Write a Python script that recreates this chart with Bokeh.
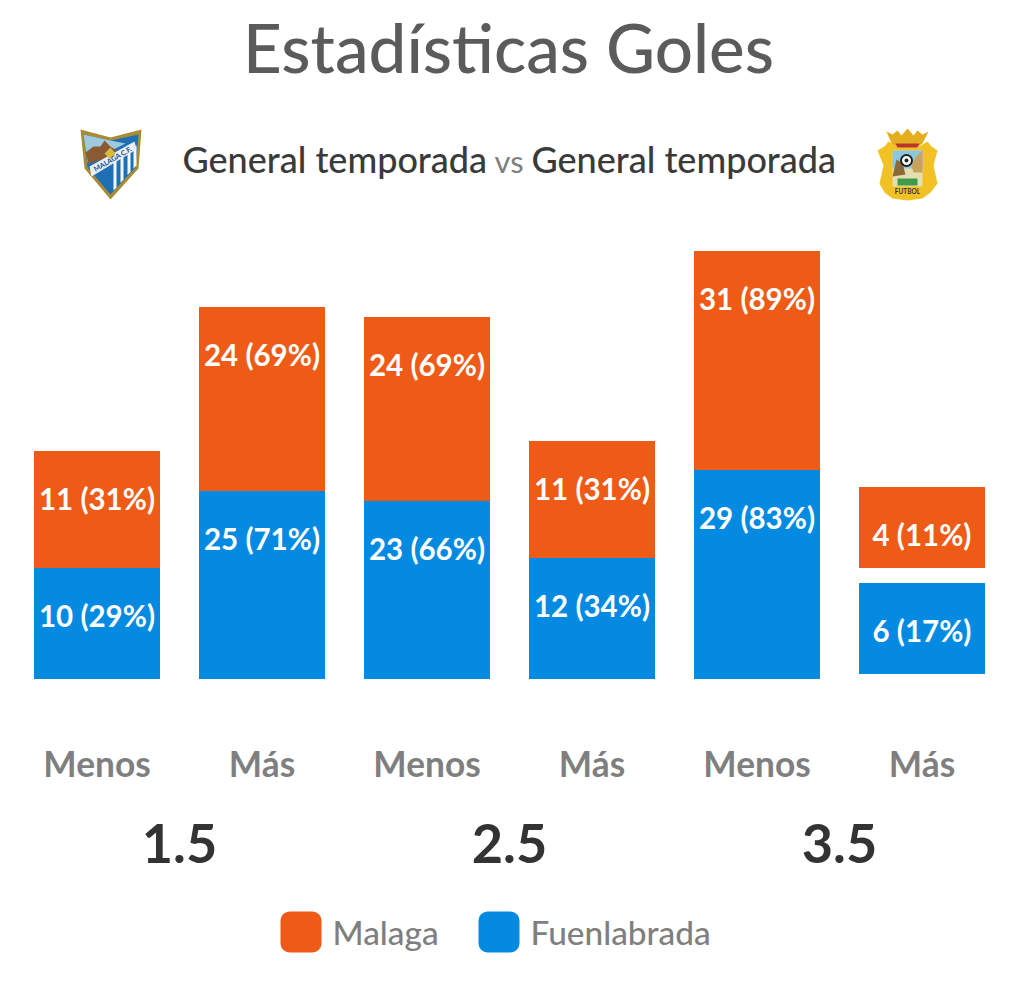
from bokeh.plotting import figure
from bokeh.models import Range1d, ColumnDataSource
from bokeh.core.properties import value
from bokeh.embed import file_html
from bokeh.resources import INLINE
import math

title = "Estadísticas Goles"
context = "General temporada"
lines = ["1.5", "2.5", "3.5"]
sides = ["Menos", "Más", "Menos", "Más", "Menos", "Más"]
teams = ["Malaga", "Fuenlabrada"]

malaga_goals = [11, 24, 24, 11, 31, 4]
malaga_pct = [31, 69, 69, 31, 89, 11]
fuenla_goals = [10, 25, 23, 12, 29, 6]
fuenla_pct = [29, 71, 66, 34, 83, 17]
# segment lengths
malaga_len = [117, 184, 184, 117, 219, 81]
fuenla_len = [111, 188, 178, 121, 209, 91]
fuenla_lift = [0, 0, 0, 0, 0, 5]
malaga_gap = [0, 0, 0, 0, 0, 15]

ORANGE = "#EE5B16"
BLUE = "#058AE2"
GREY = "#7F7F7F"
DARK = "#333333"
FONT = value("Lato")
MEDIUM = value("Lato Medium")

idx = list(range(6))
PX0, STEP, BASE = 96.5, 165, 678.5
W, H = 1020, 1002

p = figure(width=W, height=H, output_backend="svg", toolbar_location=None,
           x_range=Range1d(-PX0 / STEP, (W - PX0) / STEP),
           y_range=Range1d(BASE - H, BASE),
           x_axis_location=None, y_axis_location=None, min_border=0,
           outline_line_color=None, background_fill_color="white")
p.grid.visible = False
p.extra_x_ranges["px"] = Range1d(0, W)
p.extra_y_ranges["px"] = Range1d(H, 0)

f_bottom = list(fuenla_lift)
f_top = [a + b for a, b in zip(f_bottom, fuenla_len)]
m_bottom = [a + b for a, b in zip(f_top, malaga_gap)]
m_top = [a + b for a, b in zip(m_bottom, malaga_len)]
bw = 126 / STEP

p.vbar(x=idx, bottom=f_bottom, top=f_top, width=bw, color=BLUE, line_color=None)
p.vbar(x=idx, bottom=m_bottom, top=m_top, width=bw, color=ORANGE, line_color=None)

LABEL_DROP = 47.5
src = ColumnDataSource(dict(
    x=idx + idx,
    y=[t - LABEL_DROP for t in m_top] + [t - LABEL_DROP for t in f_top],
    t=[f"{g} ({q}%)" for g, q in zip(malaga_goals, malaga_pct)] +
      [f"{g} ({q}%)" for g, q in zip(fuenla_goals, fuenla_pct)],
))
p.text("x", "y", text="t", source=src, text_font=FONT, text_font_style="bold",
       text_font_size="29.5px", text_color="white", text_align="center", text_baseline="middle")

p.text(idx, [BASE - 762.5] * 6, text=sides, text_font=FONT, text_font_style="bold",
       text_font_size="35.3px", text_color=GREY, text_align="center", text_baseline="middle")
p.text([0.5, 2.5, 4.5], [BASE - 842.5] * 3, text=lines, text_font=FONT, text_font_style="bold",
       text_font_size="54px", text_color=DARK, text_align="center", text_baseline="middle")


def txt(x, y, s, size, color, align="left", font=FONT, style="normal", angle=0):
    p.text([x], [y], text=[s], text_font=font, text_font_style=style, text_font_size=size,
           text_color=color, text_align=align, text_baseline="middle", angle=angle,
           x_range_name="px", y_range_name="px")


def poly(xs, ys, color):
    p.patch(xs, ys, fill_color=color, line_color=None, x_range_name="px", y_range_name="px")


txt(508, 46, title, "67.3px", "#5B5B5B", "center", MEDIUM)
txt(182, 158, context, "36px", "#3A3A3A", font=MEDIUM)
txt(494, 160, "vs", "31px", GREY)
txt(531, 158, context, "36px", "#3A3A3A", font=MEDIUM)

# legend
p.quad(left=[280, 478], right=[321, 519], top=[911, 911], bottom=[952, 952],
       color=[ORANGE, BLUE], line_color=None, border_radius=9,
       x_range_name="px", y_range_name="px")
txt(332, 931, teams[0], "33.4px", GREY, font=MEDIUM)
txt(530, 931, teams[1], "33.4px", GREY, font=MEDIUM)

# Malaga crest
poly([80, 110, 141, 138, 110, 84], [129, 137, 129, 168, 199, 168], "#A98B35")
poly([83, 110, 138, 135, 110, 87], [134, 140, 134, 167, 194, 167], "#1F6FB5")
poly([83, 110, 125, 87], [134, 140, 143, 162], "#9FC9DE")
poly([85, 93, 100, 104, 110, 116, 106, 88], [152, 146, 146, 140, 146, 150, 158, 163], "#8A5A32")
for sx in [113, 120, 127, 133]:
    poly([sx, sx + 3, sx + 3, sx], [158 - (sx - 113) * .6, 157 - (sx - 113) * .6, 187 - (sx - 113) * 1.1, 190 - (sx - 113) * 1.1], "#F4F7FA")
poly([89, 134, 136, 91], [166, 141, 149, 176], "#E9EEF5")
poly([104, 110, 115, 110], [153, 147, 153, 159], "#D8B93C")
txt(112, 158, "MALAGA C.F.", "7px", "#1F4F8F", "center", FONT, "bold", math.radians(30))

# Fuenlabrada crest
poly([888, 898, 907, 917, 927, 931, 937, 933, 937, 930, 922, 907, 892, 884, 879, 883, 877, 884],
     [141, 147, 144, 147, 141, 146, 150, 165, 183, 192, 198, 200, 198, 192, 183, 165, 150, 146], "#F2C224")
poly([886, 892, 897, 901, 907, 913, 917, 922, 928, 922, 918, 896, 891], [131, 134, 130, 135, 128, 135, 130, 134, 131, 143, 146, 146, 143], "#E5AE1E")
poly([895, 919, 917, 897], [143, 143, 147, 147], "#B8372A")
poly([892, 922, 922, 892], [150, 150, 186, 186], "#E6DDB0")
poly([892, 922, 922, 892], [150, 150, 168, 168], "#8CC7DC")
poly([892, 896, 902, 905, 892], [176, 159, 163, 174, 176], "#8A6A38")
poly([922, 922, 913, 911, 915], [150, 172, 172, 165, 157], "#C9A25C")
poly([897, 917, 917, 897], [178, 178, 185, 185], "#3E9A4D")
p.scatter([906], [160], size=11, fill_color="white", line_color="#202020", line_width=2,
          x_range_name="px", y_range_name="px")
p.scatter([906], [160], size=4, fill_color="#202020", line_color=None,
          x_range_name="px", y_range_name="px")
txt(907, 191, "FUTBOL", "6.5px", "#333333", "center", FONT, "bold")

open("out.html", "w").write(file_html(p, INLINE))
